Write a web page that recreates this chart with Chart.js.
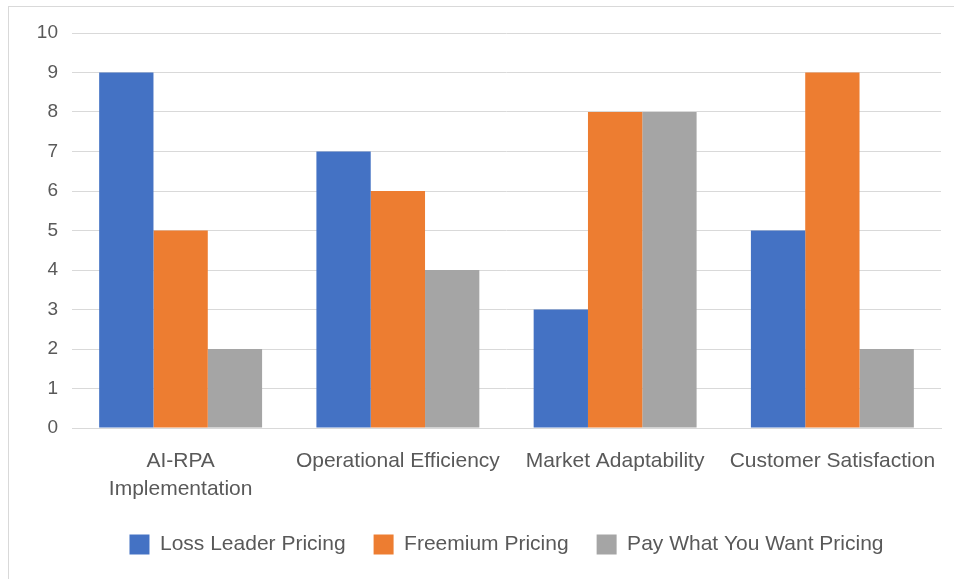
<!DOCTYPE html>
<html>
<head>
<meta charset="utf-8">
<script src="https://cdn.jsdelivr.net/npm/chart.js@4"></script>
<style>
  html, body { margin: 0; padding: 0; background: #fff; }
  #frame { position: absolute; left: 8px; top: 6px; width: 960px; height: 600px; border-top: 1px solid #d9d9d9; border-left: 1px solid #d9d9d9; }
  #wrap { position: absolute; left: 0; top: 0; width: 954px; height: 579px; }
</style>
</head>
<body>
<div id="frame"></div>
<div id="wrap"><canvas id="chart" width="954" height="579"></canvas></div>
<script>
// --- Data ---
const categories = [['AI-RPA', 'Implementation'], 'Operational Efficiency', 'Market Adaptability', 'Customer Satisfaction'];
const lossLeader = [9, 7, 3, 5];
const freemium = [5, 6, 8, 9];
const payWhatYouWant = [2, 4, 8, 2];
const yTicks = [0, 1, 2, 3, 4, 5, 6, 7, 8, 9, 10];

const FONT = '"Liberation Sans", sans-serif';
const TEXT = '#595959';

const ctx = document.getElementById('chart');
new Chart(ctx, {
  type: 'bar',
  data: {
    labels: categories,
    datasets: [
      { label: 'Loss Leader Pricing', data: lossLeader, backgroundColor: '#4472C4' },
      { label: 'Freemium Pricing', data: freemium, backgroundColor: '#ED7D31' },
      { label: 'Pay What You Want Pricing', data: payWhatYouWant, backgroundColor: '#A5A5A5' }
    ]
  },
  options: {
    responsive: false,
    animation: false,
    layout: { padding: { top: 33, right: 13, bottom: 14, left: 0 } },
    datasets: { bar: { categoryPercentage: 0.75, barPercentage: 1.0 } },
    plugins: {
      tooltip: { enabled: false },
      legend: {
        position: 'bottom',
        fullSize: false, // centre the legend under the plot area, not the whole canvas
        labels: {
          color: TEXT,
          font: { family: FONT, size: 21 },
          boxWidth: 20,
          boxHeight: 20,
          padding: 28
        }
      }
    },
    scales: {
      x: {
        grid: { display: false },
        border: { display: true, color: '#d9d9d9', width: 1 },
        ticks: { color: TEXT, font: { family: FONT, size: 21, lineHeight: 1.3 }, padding: 12, maxRotation: 0, autoSkip: false },
        afterFit: (scale) => { scale.height = 78; }
      },
      y: {
        min: 0,
        max: 10,
        afterBuildTicks: (scale) => { scale.ticks = yTicks.map(v => ({ value: v })); },
        grid: { color: '#d9d9d9', drawTicks: false },
        border: { display: false },
        ticks: { color: TEXT, font: { family: FONT, size: 19 }, padding: 14 },
        afterFit: (scale) => { scale.width = 72; }
      }
    }
  }
});
</script>
</body>
</html>
